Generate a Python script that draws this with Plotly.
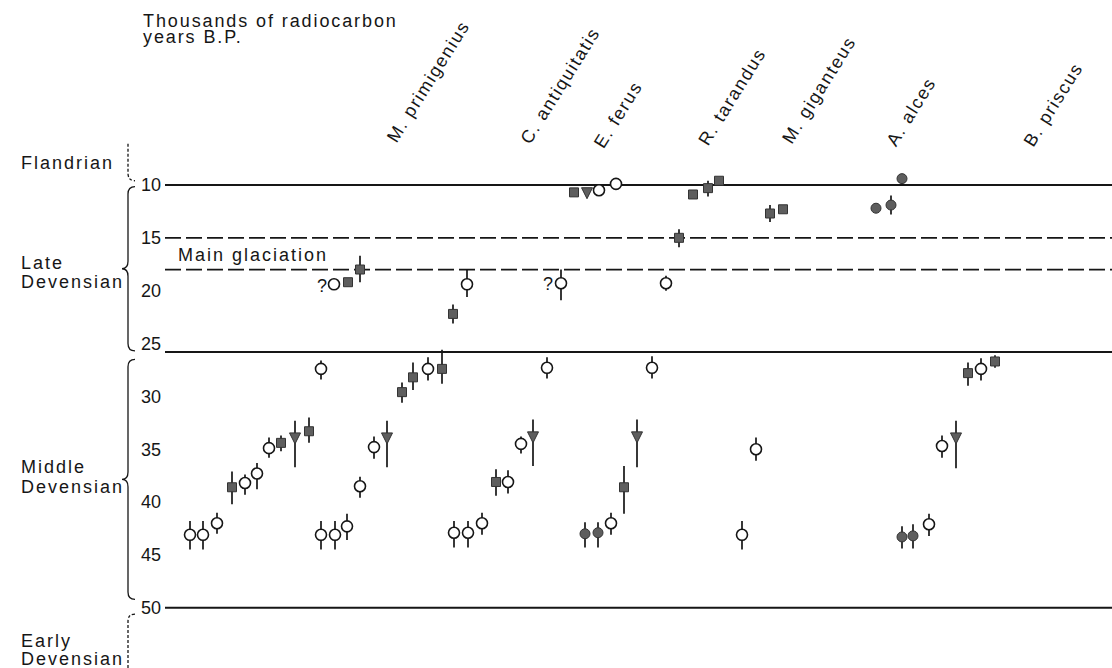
import plotly.graph_objects as go

# ---------------- data (radiocarbon ages, thousands of years B.P.) ----------------
# x = horizontal position of each dated sample along the chart
oc_x = [190, 203, 217, 245, 257, 269, 321, 321, 335, 347, 334, 360, 374, 428,
        454, 468, 482, 467, 508, 521, 547, 561, 599, 616, 611, 652, 666, 742,
        756, 929, 942, 981]
oc_age = [43.1, 43.1, 42.0, 38.2, 37.3, 34.9, 27.4, 43.1, 43.1, 42.3, 19.4, 38.5, 34.8, 27.4,
          42.9, 42.9, 42.0, 19.4, 38.1, 34.5, 27.3, 19.3, 10.5, 9.9, 42.0, 27.3, 19.3, 43.1,
          35.0, 42.1, 34.7, 27.4]
oc_err_young = [1.3, 1.3, 1.0, 0.8, 1.0, 1.0, 0.8, 1.3, 1.3, 1.2, 0, 0.9, 1.0, 1.1,
                1.1, 1.1, 1.0, 1.4, 1.1, 0.7, 1.0, 1.3, 0, 0, 1.0, 1.1, 0.7, 1.3,
                1.1, 1.0, 1.0, 1.0]
oc_err_old = [1.4, 1.4, 1.0, 1.1, 1.5, 0.9, 1.0, 1.4, 1.4, 1.3, 0, 1.1, 1.1, 1.1,
              1.4, 1.4, 1.1, 1.2, 1.1, 0.9, 1.0, 1.6, 0, 0, 1.1, 1.0, 0.7, 1.4,
              1.1, 1.1, 1.1, 1.1]

sq_x = [232, 281, 309, 348, 360, 402, 413, 442, 453, 496, 574, 624, 693, 708, 719, 679,
        770, 783, 968, 995]
sq_age = [38.6, 34.4, 33.3, 19.2, 18.0, 29.6, 28.2, 27.4, 22.2, 38.1, 10.7, 38.6, 10.9, 10.3,
          9.6, 15.0, 12.7, 12.3, 27.8, 26.7]
sq_err_young = [1.5, 0.7, 1.3, 0, 1.3, 0.9, 1.4, 1.8, 0.9, 1.2, 0, 2.0, 0, 0.7, 0, 0.8,
                0.8, 0, 1.0, 0.6]
sq_err_old = [1.6, 0.8, 1.1, 0, 1.2, 1.0, 1.2, 1.4, 0.9, 1.3, 0, 2.5, 0, 0.8, 0, 0.9,
              0.8, 0, 1.2, 0.6]

tr_x = [295, 387, 533, 587, 637, 956]
tr_age = [34.5, 34.5, 34.4, 11.3, 34.4, 34.5]
tr_err_young = [2.2, 2.2, 2.2, 0, 2.2, 2.2]
tr_err_old = [2.2, 2.2, 2.2, 0, 2.3, 2.3]

fc_x = [585, 598, 876, 891, 902, 902, 913]
fc_age = [43.0, 42.9, 12.2, 11.9, 9.4, 43.3, 43.2]
fc_err_young = [1.1, 1.0, 0, 0.9, 0, 1.0, 1.1]
fc_err_old = [1.3, 1.4, 0, 0.9, 0, 1.1, 1.2]

species = ["M. primigenius", "C. antiquitatis", "E. ferus", "R. tarandus",
           "M. giganteus", "A. alces", "B. priscus"]
species_x = [428, 560, 618, 732, 819, 911, 1053]

solid_levels = [10, 25.8, 50]
dashed_levels = [15, 18]
tick_vals = [10, 15, 20, 25, 30, 35, 40, 45, 50]
query_x = [322, 548]
query_age = [19.6, 19.4]

# ---------------- layout helpers ----------------
W, H = 1112, 668
Y_TOP, Y_BOT = -7.50, 55.70
X_LINE0 = 165
FONT = "Liberation Sans, Arial, sans-serif"
INK = "#161616"
FILL = "#5e5e5e"


def py(p):
    return 1 - p / H


def tracked(s, sp=2):
    return f'<span style="letter-spacing:{sp}px">{s}</span>'


def err(plus, minus):
    return dict(type="data", symmetric=False, array=plus, arrayminus=minus,
                width=0, thickness=1.7, color=INK)


fig = go.Figure()
fig.add_trace(go.Scatter(x=sq_x, y=sq_age, mode="markers", error_y=err(sq_err_old, sq_err_young),
                         marker=dict(symbol="square", size=9, color=FILL, line=dict(color="#333", width=1))))
fig.add_trace(go.Scatter(x=tr_x, y=tr_age, mode="markers", error_y=err(tr_err_old, tr_err_young),
                         marker=dict(symbol="arrow-down", size=11, color=FILL, line=dict(color="#333", width=1))))
fig.add_trace(go.Scatter(x=fc_x, y=fc_age, mode="markers", error_y=err(fc_err_old, fc_err_young),
                         marker=dict(symbol="circle", size=10, color=FILL, line=dict(color="#333", width=1))))
fig.add_trace(go.Scatter(x=oc_x, y=oc_age, mode="markers", error_y=err(oc_err_old, oc_err_young),
                         marker=dict(symbol="circle", size=11, color="white", line=dict(color=INK, width=1.6))))

shapes = []
for v in solid_levels:
    shapes.append(dict(type="line", xref="x", yref="y", x0=X_LINE0, x1=W, y0=v, y1=v,
                       line=dict(color=INK, width=2), layer="below"))
for v in dashed_levels:
    shapes.append(dict(type="line", xref="x", yref="y", x0=X_LINE0, x1=W, y0=v, y1=v,
                       line=dict(color=INK, width=1.8, dash="16px,5px"), layer="below"))

# braces
XB, XT, XTIP, C = 128, 135, 122, 0.7


def brace(v0, v1):
    m = (v0 + v1) / 2
    return (f"M{XT},{v0} Q{XB},{v0} {XB},{v0 + C} L{XB},{m - C} Q{XB},{m} {XTIP},{m} "
            f"Q{XB},{m} {XB},{m + C} L{XB},{v1 - C} Q{XB},{v1} {XT},{v1}")


b10, b26, b50 = solid_levels
shapes.append(dict(type="path", xref="x", yref="y", path=brace(b10 + 0.15, b26 - 0.1),
                   line=dict(color=INK, width=1.3)))
shapes.append(dict(type="path", xref="x", yref="y", path=brace(b26 + 0.7, b50 - 0.8),
                   line=dict(color=INK, width=1.3)))
shapes.append(dict(type="path", xref="x", yref="y",
                   path=f"M{XB},{b10 - 3.9} L{XB},{b10 - 0.4 - C} Q{XB},{b10 - 0.4} {XT},{b10 - 0.4}",
                   line=dict(color=INK, width=1.3, dash="3px,2px")))
shapes.append(dict(type="path", xref="x", yref="y",
                   path=f"M{XT},{b50 + 0.6} Q{XB},{b50 + 0.6} {XB},{b50 + 0.6 + C} L{XB},{Y_BOT}",
                   line=dict(color=INK, width=1.3, dash="3px,2px")))

ann = []
base = dict(showarrow=False, font=dict(family=FONT, size=18, color=INK))
label_cy = [82, 86, 115, 97, 90, 112, 105]
for name, sx, cy in zip(species, species_x, label_cy):
    ann.append(dict(base, text=tracked(name, 1.6), xref="x", yref="paper", x=sx,
                    y=py(cy), textangle=-58, xanchor="center", yanchor="middle"))

ann.append(dict(base, text=tracked("Thousands of radiocarbon", 1.9), xref="paper", yref="paper",
                x=141 / W, y=py(21), xanchor="left", yanchor="middle"))
ann.append(dict(base, text=tracked("years B.P.", 1.9), xref="paper", yref="paper",
                x=141 / W, y=py(37), xanchor="left", yanchor="middle"))
ann.append(dict(base, text=tracked("Main glaciation"), xref="x", yref="y",
                x=176, y=16.62, xanchor="left", yanchor="middle"))
for qx, qv in zip(query_x, query_age):
    ann.append(dict(base, text="?", xref="x", yref="y", x=qx, y=qv,
                    xanchor="center", yanchor="middle"))

left_labels = [("Flandrian", 163), ("Late", 263), ("Devensian", 282),
               ("Middle", 467), ("Devensian", 487), ("Early", 641), ("Devensian", 659)]
for t, cy in left_labels:
    ann.append(dict(base, text=tracked(t), xref="paper", yref="paper", x=19 / W, y=py(cy),
                    xanchor="left", yanchor="middle"))

fig.update_layout(
    width=W, height=H, template="none", showlegend=False,
    margin=dict(l=0, r=0, t=0, b=0),
    paper_bgcolor="white", plot_bgcolor="white",
    xaxis=dict(range=[0, W], visible=False, fixedrange=True),
    yaxis=dict(range=[Y_BOT, Y_TOP], anchor="free", position=X_LINE0 / W, showgrid=False,
               zeroline=False, showline=False, ticks="", tickvals=tick_vals,
               ticktext=[str(v) for v in tick_vals], ticklabelstandoff=4, automargin=False,
               tickfont=dict(family=FONT, size=18, color=INK)),
    shapes=shapes, annotations=ann,
)

fig.write_html("out.html", config={"displayModeBar": False},
               post_script="document.body.style.margin='0px';")
